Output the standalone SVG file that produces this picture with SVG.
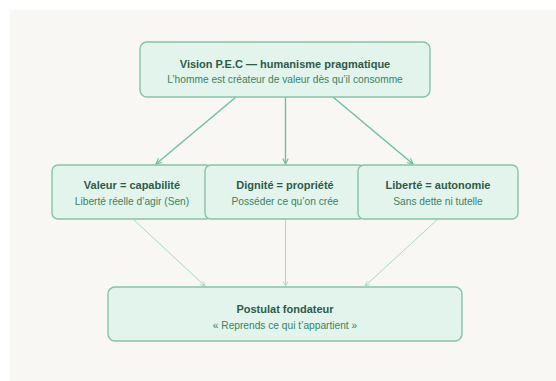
<svg xmlns="http://www.w3.org/2000/svg" width="556" height="381" viewBox="0 0 556 381">
<style>
.box{fill:#e2f4ec;stroke:#86c3a7;stroke-width:1.4}
.t{font-family:"Liberation Sans",Arial,sans-serif;font-size:11px;font-weight:bold;fill:#2e5b49;text-anchor:middle}
.s{font-family:"Liberation Sans",Arial,sans-serif;font-size:10.2px;fill:#3b8265;text-anchor:middle}
.c1{stroke:#6cc19c;stroke-width:1.4;fill:none}
.c2{stroke:#a8d8c2;stroke-width:1;fill:none}
</style>
<defs>
<marker id="a1" viewBox="0 0 10 10" refX="9" refY="5" markerWidth="7" markerHeight="7" orient="auto" markerUnits="userSpaceOnUse">
<path d="M1,1 L9,5 L1,9" fill="none" stroke="#6cc19c" stroke-width="1.6"/>
</marker>
<marker id="a2" viewBox="0 0 10 10" refX="9" refY="5" markerWidth="6" markerHeight="6" orient="auto" markerUnits="userSpaceOnUse">
<path d="M1,1 L9,5 L1,9" fill="none" stroke="#a8d8c2" stroke-width="1.4"/>
</marker>
</defs>
<rect x="0" y="0" width="556" height="381" fill="#ffffff"/>
<rect x="10" y="10" width="546" height="371" fill="#f8f7f4"/>
<g id="connectors">
<line class="c1" x1="236" y1="97" x2="156" y2="164" marker-end="url(#a1)"/>
<line class="c1" x1="285.5" y1="97" x2="285.5" y2="164" marker-end="url(#a1)"/>
<line class="c1" x1="333" y1="97" x2="413" y2="164" marker-end="url(#a1)"/>
<line class="c2" x1="133" y1="219" x2="205" y2="286" marker-end="url(#a2)"/>
<line class="c2" x1="285.5" y1="219" x2="285.5" y2="286" marker-end="url(#a2)"/>
<line class="c2" x1="438" y1="219" x2="365" y2="286" marker-end="url(#a2)"/>
</g>
<g id="vision">
<rect class="box" x="140" y="42" width="290" height="55" rx="7"/>
<text class="t" x="285" y="68">Vision P.E.C — humanisme pragmatique</text>
<text class="s" x="285" y="83">L’homme est créateur de valeur dès qu’il consomme</text>
</g>
<g id="valeur">
<rect class="box" x="52" y="165" width="160" height="54" rx="6"/>
<text class="t" x="132" y="189">Valeur = capabilité</text>
<text class="s" x="132" y="205">Liberté réelle d’agir (Sen)</text>
</g>
<g id="dignite">
<rect class="box" x="205" y="165" width="160" height="54" rx="6"/>
<text class="t" x="285" y="189">Dignité = propriété</text>
<text class="s" x="285" y="205">Posséder ce qu’on crée</text>
</g>
<g id="liberte">
<rect class="box" x="358" y="165" width="160" height="54" rx="6"/>
<text class="t" x="438" y="189">Liberté = autonomie</text>
<text class="s" x="438" y="205">Sans dette ni tutelle</text>
</g>
<g id="postulat">
<rect class="box" x="108" y="287" width="354" height="54" rx="7"/>
<text class="t" x="285" y="313">Postulat fondateur</text>
<text class="s" x="285" y="329">« Reprends ce qui t’appartient »</text>
</g>
</svg>
